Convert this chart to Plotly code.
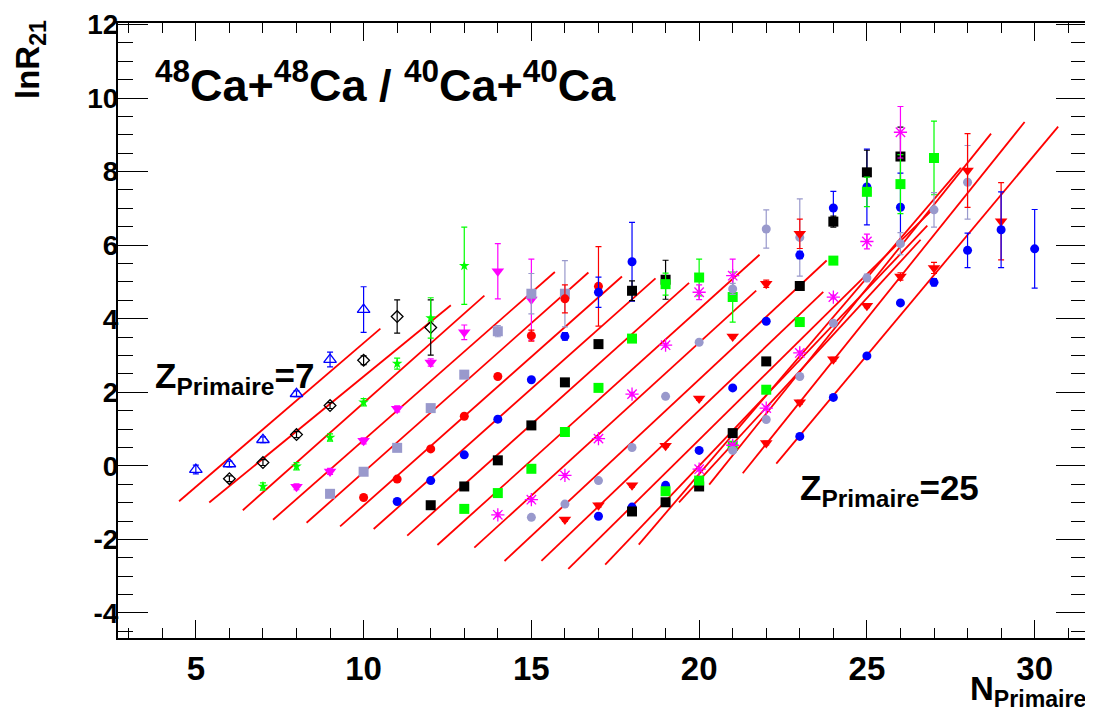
import numpy as np
import plotly.graph_objects as go

# ---------------- data ----------------
z_list = [7, 8, 9, 10, 11, 12, 13, 14, 15, 16, 17, 18, 19, 20, 21, 22, 23, 24, 25]
n_first = [5, 6, 7, 8, 9, 10, 11, 12, 13, 14, 15, 16, 17, 18, 19, 20, 21, 22, 23]

lnr_z07 = [-0.10, 0.05, 0.71, 1.96, 2.89, 4.25]
err_z07 = [0.12, 0.08, 0.08, 0.08, 0.20, 0.62]
lnr_z08 = [-0.35, 0.09, 0.85, 1.64, 2.87, 4.06, 3.76]
err_z08 = [0.08, 0.08, 0.08, 0.08, 0.12, 0.45, 0.75]
lnr_z09 = [-0.56, -0.01, 0.77, 1.73, 2.78, 4.02, 5.44]
err_z09 = [0.10, 0.10, 0.10, 0.10, 0.15, 0.55, 1.05]
lnr_z10 = [-0.57, -0.15, 0.68, 1.55, 2.81, 3.63, 5.29, 4.52]
err_z10 = [0.08, 0.08, 0.08, 0.08, 0.10, 0.20, 0.75, 1.10]
lnr_z11 = [-0.76, -0.16, 0.49, 1.57, 2.48, 3.66, 4.68, 4.68]
err_z11 = [0.05, 0.05, 0.05, 0.05, 0.05, 0.15, 0.55, 0.90]
lnr_z12 = [-0.86, -0.36, 0.46, 1.35, 2.43, 3.54, 4.54, 4.88]
err_z12 = [0.05, 0.05, 0.05, 0.05, 0.05, 0.15, 0.38, 1.08]
lnr_z13 = [-0.97, -0.40, 0.30, 1.27, 2.34, 3.52, 4.72, 5.55]
err_z13 = [0.05, 0.05, 0.05, 0.05, 0.05, 0.10, 0.41, 1.07]
lnr_z14 = [-1.07, -0.56, 0.15, 1.10, 2.27, 3.31, 4.76, 5.06]
err_z14 = [0.05, 0.05, 0.05, 0.05, 0.05, 0.05, 0.27, 0.53]
lnr_z15 = [-1.17, -0.74, -0.08, 0.92, 2.12, 3.46, 4.94, 5.12, 4.59]
err_z15 = [0.05, 0.05, 0.05, 0.05, 0.05, 0.05, 0.30, 0.50, 0.68]
lnr_z16 = [-1.33, -0.92, -0.26, 0.74, 1.95, 3.28, 4.72, 5.17]
err_z16 = [0.05, 0.05, 0.05, 0.05, 0.05, 0.05, 0.20, 0.45]
lnr_z17 = [-1.40, -1.04, -0.40, 0.50, 1.89, 3.36, 4.81, 6.44, 6.21]
err_z17 = [0.05, 0.05, 0.05, 0.05, 0.05, 0.05, 0.15, 0.52, 1.05]
lnr_z18 = [-1.46, -1.07, -0.53, 0.55, 1.83, 3.52, 4.95, 6.31]
err_z18 = [0.05, 0.05, 0.05, 0.05, 0.05, 0.05, 0.10, 0.40]
lnr_z19 = [-1.37, -1.12, -0.53, 0.42, 2.12, 3.93, 5.73, 7.01, 7.58, 7.03]
err_z19 = [0.05, 0.05, 0.05, 0.05, 0.05, 0.05, 0.10, 0.45, 1.03, 0.93]
lnr_z20 = [-1.24, -0.99, -0.56, 0.89, 2.84, 4.89, 6.64, 7.98, 8.41]
err_z20 = [0.05, 0.05, 0.05, 0.05, 0.05, 0.10, 0.15, 0.60, 0.80]
lnr_z21 = [-0.69, -0.40, 0.55, 2.07, 3.91, 5.58, 7.45, 7.66, 8.37]
err_z21 = [0.05, 0.05, 0.05, 0.05, 0.05, 0.05, 0.40, 0.80, 1.00]
lnr_z22 = [-0.09, 0.56, 1.57, 3.07, 4.59, 6.10, 9.07]
err_z22 = [0.05, 0.05, 0.05, 0.05, 0.05, 0.20, 0.70]
lnr_z23 = [0.42, 1.26, 2.43, 3.88, 5.11, 6.04, 6.96, 7.71]
err_z23 = [0.05, 0.05, 0.05, 0.05, 0.10, 0.30, 0.47, 1.00]
lnr_z24 = [0.62, 1.73, 2.90, 4.35, 5.15, 5.38, 8.03, 6.65]
err_z24 = [0.05, 0.05, 0.05, 0.05, 0.10, 0.15, 1.00, 1.05]
lnr_z25 = [0.80, 1.86, 2.99, 4.43, 4.99, 5.86, 6.42, 5.90]
err_z25 = [0.05, 0.05, 0.05, 0.05, 0.10, 0.47, 1.03, 1.07]

# linear fit parameters of each Z (lnR21 = slope*N + intercept)
fit_slope = [0.782, 0.745, 0.810, 0.802, 0.810, 0.809, 0.811, 0.818, 0.822, 0.832,
             0.851, 0.871, 0.900, 0.960, 1.067, 0.992, 1.136, 1.137, 1.091]
fit_icpt = [-4.48, -5.02, -6.39, -7.32, -8.27, -9.17, -10.07, -11.14, -12.18, -13.29,
            -14.67, -15.91, -17.29, -19.20, -21.56, -20.24, -23.57, -24.42, -24.27]

x_ticks = [5, 10, 15, 20, 25, 30]
y_ticks = [-4, -2, 0, 2, 4, 6, 8, 10, 12]

series_vals = [lnr_z07, lnr_z08, lnr_z09, lnr_z10, lnr_z11, lnr_z12, lnr_z13,
               lnr_z14, lnr_z15, lnr_z16, lnr_z17, lnr_z18, lnr_z19, lnr_z20,
               lnr_z21, lnr_z22, lnr_z23, lnr_z24, lnr_z25]
series_errs = [err_z07, err_z08, err_z09, err_z10, err_z11, err_z12, err_z13,
               err_z14, err_z15, err_z16, err_z17, err_z18, err_z19, err_z20,
               err_z21, err_z22, err_z23, err_z24, err_z25]

# ---------------- styles ----------------
BLUE, BLACK, GREEN, MAG, LAV, RED = "#0000ff", "#000000", "#00ff00", "#ff00ff", "#9999cc", "#ff0000"
styles = [
    (BLUE, "triangle-up-open", 11),
    (BLACK, "diamond-open", 9),
    (GREEN, "star", 8),
    (MAG, "triangle-down", 11),
    (LAV, "square", 10),
    (RED, "circle", 9),
    (BLUE, "circle", 9),
    (BLACK, "square", 10),
    (GREEN, "square", 10),
    (MAG, "asterisk-open", 11),
    (LAV, "circle", 9),
    (RED, "triangle-down", 11),
    (BLUE, "circle", 9),
    (BLACK, "square", 10),
    (GREEN, "square", 10),
    (MAG, "asterisk-open", 11),
    (LAV, "circle", 9),
    (RED, "triangle-down", 11),
    (BLUE, "circle", 9),
]

fig = go.Figure()

# fit lines, drawn over the graph range plus a 10% margin on each side
for n0, vals, a, b in zip(n_first, series_vals, fit_slope, fit_icpt):
    n_lo, n_hi = n0, n0 + len(vals) - 1
    pad = 0.1 * (n_hi - n_lo)
    xs = np.array([n_lo - pad, n_hi + pad])
    fig.add_trace(go.Scatter(x=xs, y=a * xs + b, mode="lines",
                             line=dict(color=RED, width=1.8),
                             hoverinfo="skip", showlegend=False))

# data points
for z, n0, vals, errs, (col, sym, sz) in zip(z_list, n_first, series_vals, series_errs, styles):
    n = list(range(n0, n0 + len(vals)))
    mk = dict(color=col, symbol=sym, size=sz)
    if sym.endswith("open"):
        mk["line"] = dict(color=col, width=1.3)
    fig.add_trace(go.Scatter(
        x=n, y=vals, mode="markers", marker=mk,
        error_y=dict(type="data", array=errs, color=col, thickness=1.2, width=3),
        name=f"Z={z}", showlegend=False))

# plot frame in window pixels; the page body adds an 8 px offset
OFF = 8
L, R, T, B = 118, 1086, 23, 638
W, H = 1093 - OFF, 717 - OFF
pw, ph = R - L, B - T


def px(xp):
    return (xp - L) / pw


def py(yp):
    return 1 - (yp - T) / ph


FONT = "Liberation Sans"
NARROW = "Liberation Sans Narrow, Liberation Sans"
fig.update_layout(
    width=W, height=H,
    margin=dict(l=L - OFF, r=W - (R - OFF), t=T - OFF, b=H - (B - OFF), autoexpand=False),
    paper_bgcolor="white", plot_bgcolor="white",
    showlegend=False,
    font=dict(family=FONT, color="black"),
)
fig.update_xaxes(
    automargin=False,
    range=[2.68, 31.53], tickvals=x_ticks, ticktext=[str(v) for v in x_ticks],
    showgrid=False, zeroline=False, showline=True, linewidth=2, linecolor="black",
    mirror="allticks", ticks="inside", ticklen=18, tickwidth=1.2, tickcolor="black",
    minor=dict(dtick=1, ticks="inside", ticklen=10, tickwidth=1, tickcolor="black", showgrid=False),
    tickfont=dict(family=NARROW, size=33, weight="bold", color="black"),
)
fig.update_yaxes(
    automargin=False,
    range=[-4.68, 12.04], tickvals=y_ticks, ticktext=[str(v) for v in y_ticks],
    showgrid=False, zeroline=False, showline=True, linewidth=2, linecolor="black",
    mirror="allticks", ticks="inside", ticklen=30, tickwidth=1.2, tickcolor="black",
    minor=dict(dtick=0.5, ticks="inside", ticklen=15, tickwidth=1, tickcolor="black", showgrid=False),
    tickfont=dict(family=FONT, size=28, weight="bold", color="black"),
    ticklabelstandoff=-8,
)

ann = [
    dict(text="<b><sup>48</sup>Ca+<sup>48</sup>Ca / <sup>40</sup>Ca+<sup>40</sup>Ca</b>",
         x=px(153), y=py(82), xanchor="left", yanchor="middle", font=dict(size=45)),
    dict(text="<b>Z<sub>Primaire</sub>=7</b>",
         x=px(153), y=py(378), xanchor="left", yanchor="middle", font=dict(size=35)),
    dict(text="<b>Z<sub>Primaire</sub>=25</b>",
         x=px(798), y=py(490), xanchor="left", yanchor="middle", font=dict(size=35)),
    dict(text="<b>lnR<sub>21</sub></b>", textangle=-90,
         x=px(30), y=py(60), xanchor="center", yanchor="middle", font=dict(size=33)),
    dict(text="<b>N<sub>Primaire</sub></b>",
         x=px(1088), y=py(714), xanchor="right", yanchor="bottom",
         font=dict(size=33, family=NARROW)),
]
for a in ann:
    a.update(xref="paper", yref="paper", showarrow=False)
    a["font"].setdefault("family", FONT)
    a["font"]["color"] = "black"
    fig.add_annotation(**a)

fig.write_html("out.html")
